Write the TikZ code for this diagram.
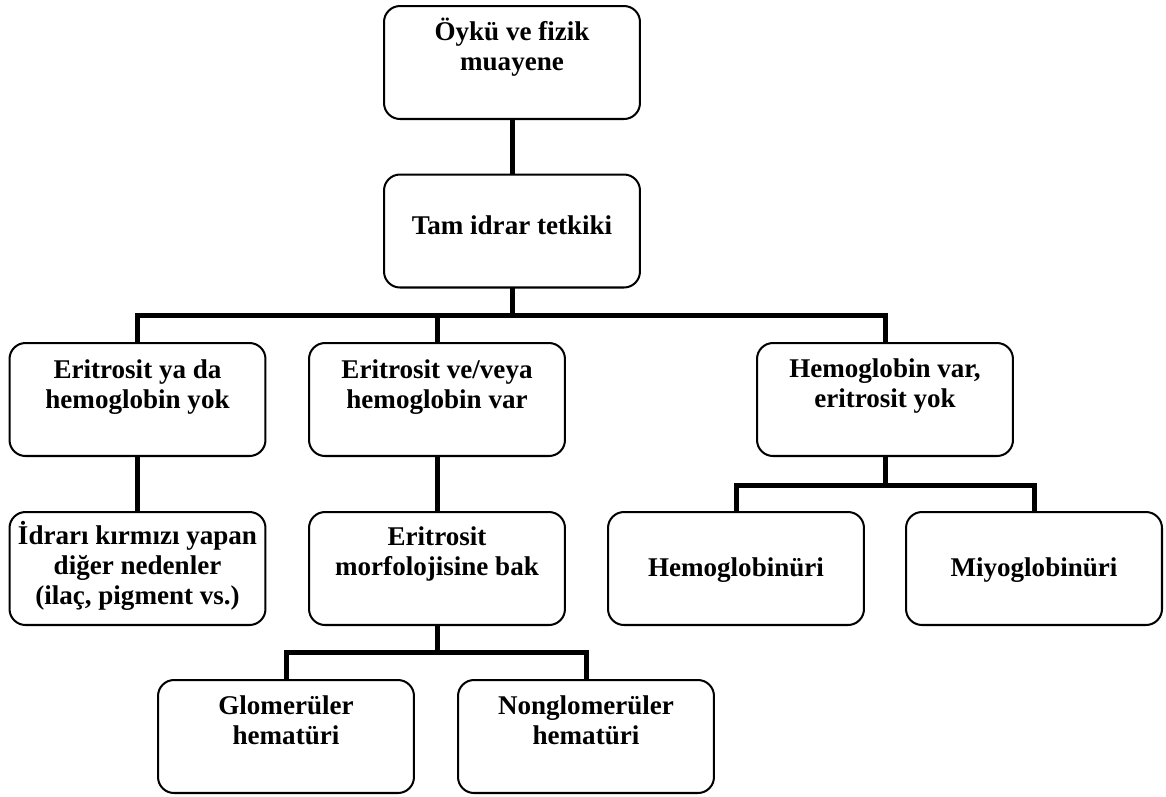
\documentclass[tikz,border=0pt]{standalone}
\usepackage{fontspec}
\setmainfont{Liberation Serif}
\usetikzlibrary{calc}
\newcommand{\tstrut}{\rule{0pt}{14pt}}
\begin{document}
\begin{tikzpicture}[x=0.02cm,y=-0.02cm,
  box/.style={draw=black,line width=1.15pt,rounded corners=0.32cm,minimum width=5.12cm,minimum height=2.26cm,inner sep=0pt,outer sep=0pt,fill=white},
  txt/.style={anchor=north,inner sep=0pt,outer sep=0pt,align=center,font=\fontsize{15.4}{17.07}\selectfont\bfseries},
  conn/.style={draw=black,line width=2.85pt,line join=miter,line cap=butt}]
\useasboundingbox[fill=white] (0,0) rectangle (1166,796);
% boxes
\node[box] (b1) at (512,62.5) {};
\node[box] (b2) at (512,231) {};
\node[box] (b3) at (137.5,399.5) {};
\node[box] (b4) at (437,399.5) {};
\node[box] (b5) at (885,399.5) {};
\node[box] (b6) at (137.5,568.5) {};
\node[box] (b7) at (437,568.5) {};
\node[box] (b8) at (736,568.5) {};
\node[box] (b9) at (1034,568.5) {};
\node[box] (b10) at (286,736.5) {};
\node[box] (b11) at (586,736.5) {};
% texts
\node[txt] (t1) at ($(b1.north)+(0,9.5)$) {\tstrut Öykü ve fizik\\muayene};
\node[txt] (t2) at ($(b2.north)+(0,35)$) {\tstrut Tam idrar tetkiki};
\node[txt] (t3) at ($(b3.north)+(0,11)$) {\tstrut Eritrosit ya da\\hemoglobin yok};
\node[txt] (t4) at ($(b4.north)+(0,11)$) {\tstrut Eritrosit ve/veya\\hemoglobin var};
\node[txt] (t5) at ($(b5.north)+(0,10)$) {\tstrut Hemoglobin var,\\eritrosit yok};
\node[txt] (t6) at ($(b6.north)+(0,8.3)$) {\tstrut İdrarı kırmızı yapan\\diğer nedenler\\(ilaç, pigment vs.)};
\node[txt] (t7) at ($(b7.north)+(0,9)$) {\tstrut Eritrosit\\morfolojisine bak};
\node[txt] (t8) at ($(b8.north)+(0,40)$) {\tstrut Hemoglobinüri};
\node[txt] (t9) at ($(b9.north)+(0,40)$) {\tstrut Miyoglobinüri};
\node[txt] (t10) at ($(b10.north)+(0,9.5)$) {\tstrut Glomerüler\\hematüri};
\node[txt] (t11) at ($(b11.north)+(0,9.5)$) {\tstrut Nonglomerüler\\hematüri};
% junctions
\coordinate (j1) at (512,315.5);
\coordinate (j2) at (885,485.5);
\coordinate (j3) at (437,652.5);
% connectors
\draw[conn] (b1.south) -- (b2.north);
\draw[conn] (b2.south) -- (j1);
\draw[conn] (b3.north) |- (j1) -| (b5.north);
\draw[conn] (b4.north) -- (b4.north |- j1);
\draw[conn] (b3.south) -- (b6.north);
\draw[conn] (b4.south) -- (b7.north);
\draw[conn] (b5.south) -- (j2);
\draw[conn] (b8.north) |- (j2) -| (b9.north);
\draw[conn] (b7.south) -- (j3);
\draw[conn] (b10.north) |- (j3) -| (b11.north);
\end{tikzpicture}
\end{document}
